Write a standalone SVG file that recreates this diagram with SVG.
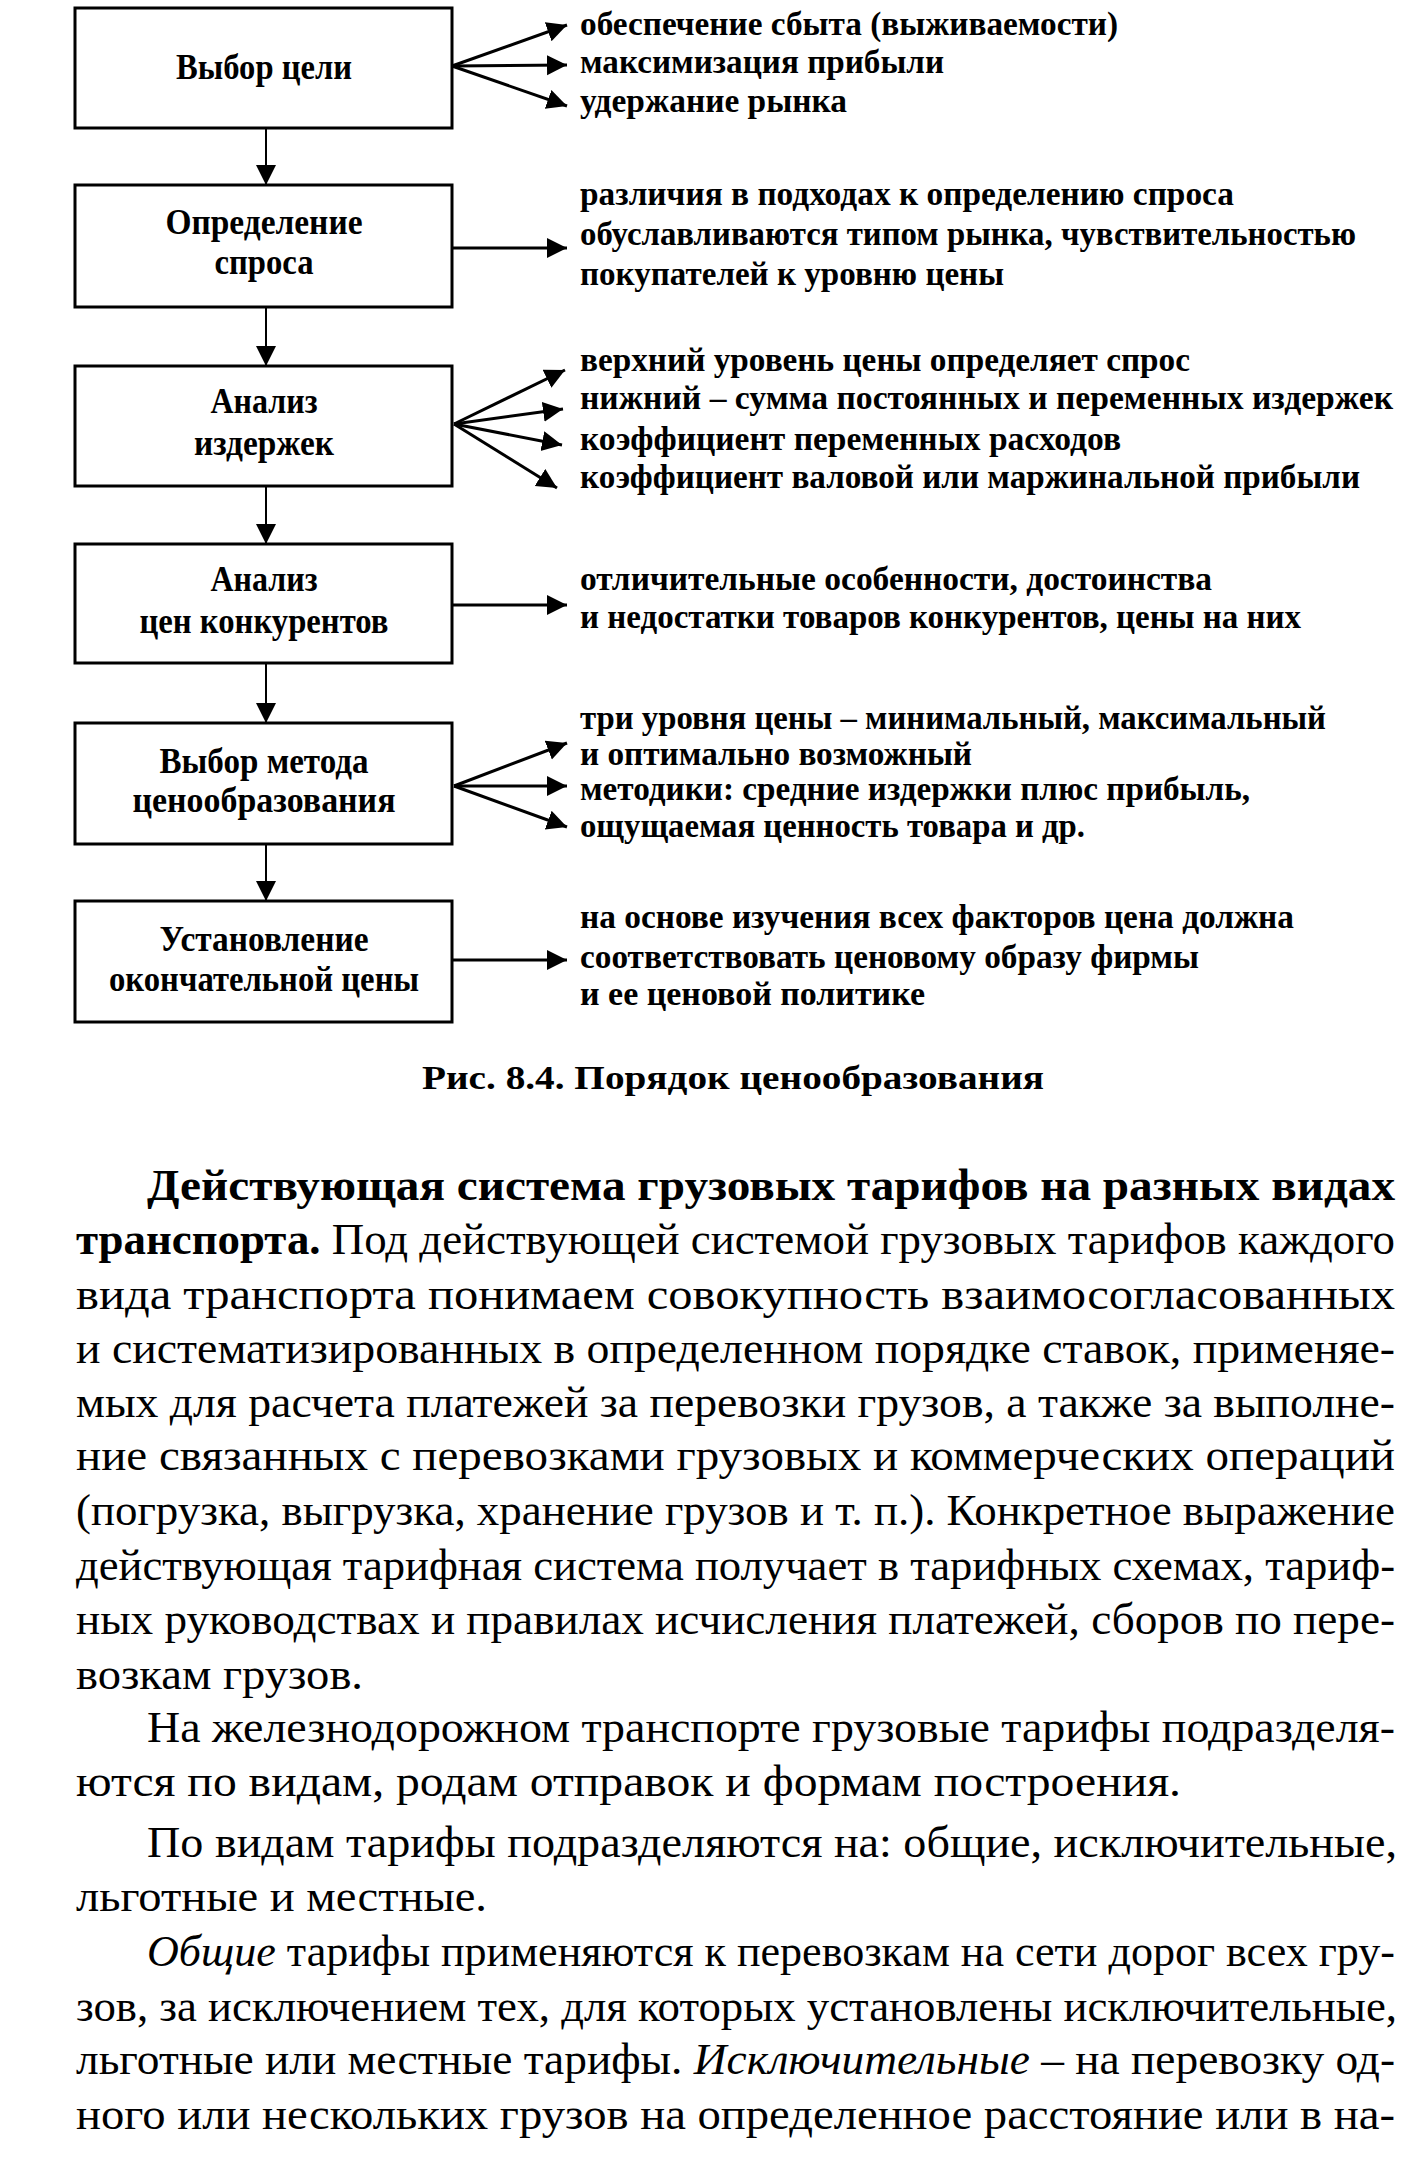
<svg xmlns="http://www.w3.org/2000/svg" width="1425" height="2159" viewBox="0 0 1425 2159">
<style>
.box{fill:#fff;stroke:#000;stroke-width:3}
.bt{font-family:"Liberation Serif","Times New Roman",serif;font-size:36px;font-weight:bold;text-anchor:middle;fill:#000}
.rt{font-family:"Liberation Serif","Times New Roman",serif;font-size:33px;font-weight:bold;fill:#000}
.cap{font-family:"Liberation Serif","Times New Roman",serif;font-size:34px;font-weight:bold;fill:#000}
.body{font-family:"Liberation Serif","Times New Roman",serif;font-size:44px;fill:#000}
.v{stroke:#000;stroke-width:2;fill:none;marker-end:url(#ah)}
.h{stroke:#000;stroke-width:3;fill:none;marker-end:url(#ah)}
</style>
<defs>
<marker id="ah" markerUnits="userSpaceOnUse" markerWidth="22" markerHeight="22" refX="20" refY="10" orient="auto">
<path d="M0,0 L20,10 L0,20 z" fill="#000"/>
</marker>
</defs>
<rect width="1425" height="2159" fill="#fff"/>

<g id="connectors">
<line class="v" x1="266" y1="128" x2="266" y2="185"/>
<line class="v" x1="266" y1="307" x2="266" y2="366"/>
<line class="v" x1="266" y1="486" x2="266" y2="544"/>
<line class="v" x1="266" y1="663" x2="266" y2="723"/>
<line class="v" x1="266" y1="844" x2="266" y2="901"/>
<line class="h" x1="452" y1="66" x2="567" y2="25"/>
<line class="h" x1="452" y1="66" x2="567" y2="65"/>
<line class="h" x1="452" y1="66" x2="567" y2="106"/>
<line class="h" x1="452" y1="248" x2="567" y2="248"/>
<line class="h" x1="454" y1="424" x2="565" y2="370"/>
<line class="h" x1="454" y1="424" x2="563" y2="409"/>
<line class="h" x1="454" y1="424" x2="562" y2="445"/>
<line class="h" x1="454" y1="424" x2="557" y2="488"/>
<line class="h" x1="452" y1="605" x2="567" y2="605"/>
<line class="h" x1="454" y1="786" x2="567" y2="743"/>
<line class="h" x1="454" y1="786" x2="567" y2="786"/>
<line class="h" x1="454" y1="786" x2="567" y2="827"/>
<line class="h" x1="452" y1="960" x2="567" y2="960"/>
</g>

<g id="n1"><rect class="box" x="75" y="8" width="377" height="120"/><text class="bt" x="264" y="79" textLength="176" lengthAdjust="spacingAndGlyphs">Выбор цели</text></g>
<g id="n2"><rect class="box" x="75" y="185" width="377" height="122"/><text class="bt" x="264" y="234" textLength="197" lengthAdjust="spacingAndGlyphs">Определение</text><text class="bt" x="264" y="274" textLength="99" lengthAdjust="spacingAndGlyphs">спроса</text></g>
<g id="n3"><rect class="box" x="75" y="366" width="377" height="120"/><text class="bt" x="264" y="413" textLength="107" lengthAdjust="spacingAndGlyphs">Анализ</text><text class="bt" x="264" y="455" textLength="140" lengthAdjust="spacingAndGlyphs">издержек</text></g>
<g id="n4"><rect class="box" x="75" y="544" width="377" height="119"/><text class="bt" x="264" y="591" textLength="107" lengthAdjust="spacingAndGlyphs">Анализ</text><text class="bt" x="264" y="633" textLength="249" lengthAdjust="spacingAndGlyphs">цен конкурентов</text></g>
<g id="n5"><rect class="box" x="75" y="723" width="377" height="121"/><text class="bt" x="264" y="773" textLength="209" lengthAdjust="spacingAndGlyphs">Выбор метода</text><text class="bt" x="264" y="812" textLength="263" lengthAdjust="spacingAndGlyphs">ценообразования</text></g>
<g id="n6"><rect class="box" x="75" y="901" width="377" height="121"/><text class="bt" x="264" y="951" textLength="209" lengthAdjust="spacingAndGlyphs">Установление</text><text class="bt" x="264" y="991" textLength="310" lengthAdjust="spacingAndGlyphs">окончательной цены</text></g>

<g id="r1">
<text class="rt" x="580" y="35" textLength="538" lengthAdjust="spacingAndGlyphs">обеспечение сбыта (выживаемости)</text>
<text class="rt" x="580" y="73" textLength="364" lengthAdjust="spacingAndGlyphs">максимизация прибыли</text>
<text class="rt" x="580" y="112" textLength="267" lengthAdjust="spacingAndGlyphs">удержание рынка</text>
</g>
<g id="r2">
<text class="rt" x="580" y="205" textLength="654" lengthAdjust="spacingAndGlyphs">различия в подходах к определению спроса</text>
<text class="rt" x="580" y="245" textLength="776" lengthAdjust="spacingAndGlyphs">обуславливаются типом рынка, чувствительностью</text>
<text class="rt" x="580" y="285" textLength="424" lengthAdjust="spacingAndGlyphs">покупателей к уровню цены</text>
</g>
<g id="r3">
<text class="rt" x="580" y="371" textLength="610" lengthAdjust="spacingAndGlyphs">верхний уровень цены определяет спрос</text>
<text class="rt" x="580" y="409" textLength="813" lengthAdjust="spacingAndGlyphs">нижний – сумма постоянных и переменных издержек</text>
<text class="rt" x="580" y="450" textLength="541" lengthAdjust="spacingAndGlyphs">коэффициент переменных расходов</text>
<text class="rt" x="580" y="488" textLength="780" lengthAdjust="spacingAndGlyphs">коэффициент валовой или маржинальной прибыли</text>
</g>
<g id="r4">
<text class="rt" x="580" y="590" textLength="632" lengthAdjust="spacingAndGlyphs">отличительные особенности, достоинства</text>
<text class="rt" x="580" y="628" textLength="721" lengthAdjust="spacingAndGlyphs">и недостатки товаров конкурентов, цены на них</text>
</g>
<g id="r5">
<text class="rt" x="580" y="729" textLength="746" lengthAdjust="spacingAndGlyphs">три уровня цены – минимальный, максимальный</text>
<text class="rt" x="580" y="765" textLength="392" lengthAdjust="spacingAndGlyphs">и оптимально возможный</text>
<text class="rt" x="580" y="800" textLength="670" lengthAdjust="spacingAndGlyphs">методики: средние издержки плюс прибыль,</text>
<text class="rt" x="580" y="837" textLength="505" lengthAdjust="spacingAndGlyphs">ощущаемая ценность товара и др.</text>
</g>
<g id="r6">
<text class="rt" x="580" y="928" textLength="714" lengthAdjust="spacingAndGlyphs">на основе изучения всех факторов цена должна</text>
<text class="rt" x="580" y="968" textLength="619" lengthAdjust="spacingAndGlyphs">соответствовать ценовому образу фирмы</text>
<text class="rt" x="580" y="1005" textLength="345" lengthAdjust="spacingAndGlyphs">и ее ценовой политике</text>
</g>

<text class="cap" x="422" y="1089" textLength="622" lengthAdjust="spacingAndGlyphs">Рис.  8.4.  Порядок  ценообразования</text>

<g id="body">
<text class="body" x="147" y="1200" textLength="1248" lengthAdjust="spacingAndGlyphs" font-weight="bold">Действующая  система  грузовых  тарифов  на  разных  видах</text>
<text class="body" x="76" y="1254" textLength="1319" lengthAdjust="spacingAndGlyphs"><tspan font-weight="bold">транспорта.</tspan> Под действующей системой грузовых тарифов каждого</text>
<text class="body" x="76" y="1309" textLength="1319" lengthAdjust="spacingAndGlyphs">вида   транспорта   понимаем   совокупность   взаимосогласованных</text>
<text class="body" x="76" y="1363" textLength="1319" lengthAdjust="spacingAndGlyphs">и систематизированных в определенном порядке ставок, применяе-</text>
<text class="body" x="76" y="1417" textLength="1319" lengthAdjust="spacingAndGlyphs">мых для расчета платежей за перевозки грузов, а также за выполне-</text>
<text class="body" x="76" y="1470" textLength="1319" lengthAdjust="spacingAndGlyphs">ние  связанных  с  перевозками  грузовых  и  коммерческих  операций</text>
<text class="body" x="76" y="1525" textLength="1319" lengthAdjust="spacingAndGlyphs">(погрузка, выгрузка, хранение грузов и т. п.). Конкретное выражение</text>
<text class="body" x="76" y="1580" textLength="1319" lengthAdjust="spacingAndGlyphs">действующая тарифная система получает в тарифных схемах, тариф-</text>
<text class="body" x="76" y="1634" textLength="1319" lengthAdjust="spacingAndGlyphs">ных руководствах и правилах исчисления платежей, сборов по пере-</text>
<text class="body" x="76" y="1689" textLength="287" lengthAdjust="spacingAndGlyphs">возкам  грузов.</text>
<text class="body" x="147" y="1742" textLength="1248" lengthAdjust="spacingAndGlyphs">На железнодорожном транспорте грузовые тарифы подразделя-</text>
<text class="body" x="76" y="1796" textLength="1105" lengthAdjust="spacingAndGlyphs">ются  по  видам,  родам  отправок  и  формам  построения.</text>
<text class="body" x="147" y="1857" textLength="1250" lengthAdjust="spacingAndGlyphs">По  видам  тарифы  подразделяются  на:  общие,  исключительные,</text>
<text class="body" x="76" y="1911" textLength="411" lengthAdjust="spacingAndGlyphs">льготные  и  местные.</text>
<text class="body" x="147" y="1966" textLength="1248" lengthAdjust="spacingAndGlyphs"><tspan font-style="italic">Общие</tspan> тарифы применяются к перевозкам на сети дорог всех гру-</text>
<text class="body" x="76" y="2021" textLength="1321" lengthAdjust="spacingAndGlyphs">зов, за исключением тех, для которых установлены исключительные,</text>
<text class="body" x="76" y="2074" textLength="1319" lengthAdjust="spacingAndGlyphs">льготные или местные тарифы. <tspan font-style="italic">Исключительные</tspan> – на перевозку од-</text>
<text class="body" x="76" y="2129" textLength="1319" lengthAdjust="spacingAndGlyphs">ного  или  нескольких  грузов  на  определенное  расстояние  или  в  на-</text>
</g>
</svg>
